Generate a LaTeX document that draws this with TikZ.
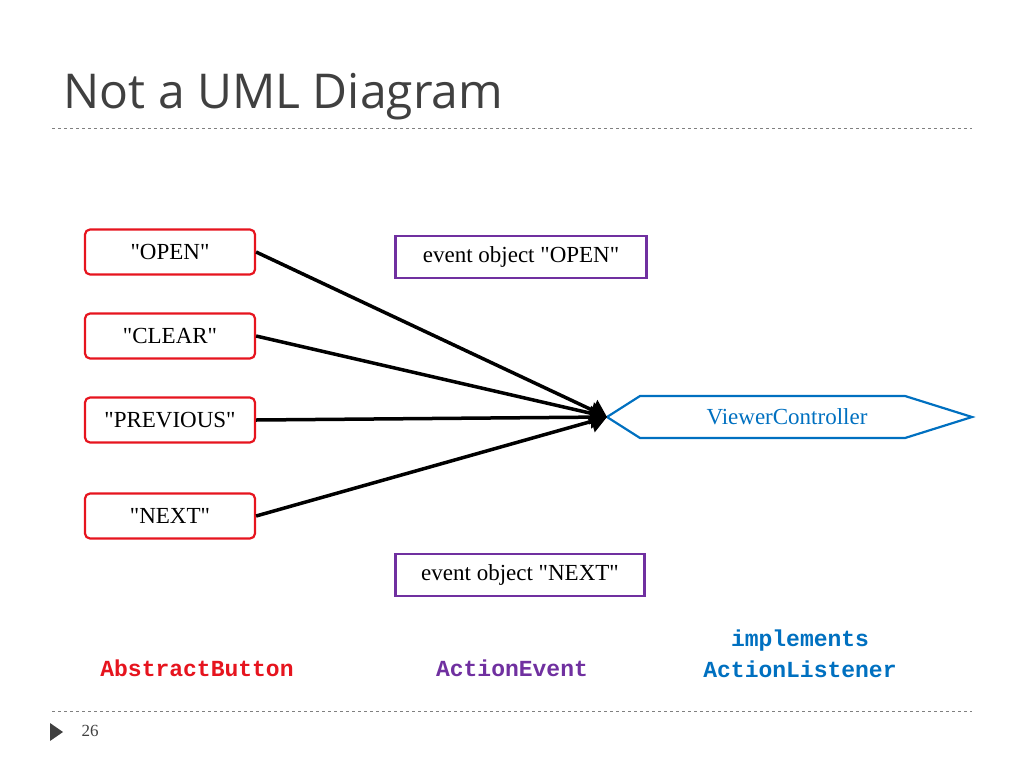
\documentclass[tikz,border=0pt]{standalone}
\usepackage{fontspec}
\setmainfont{Liberation Serif}[Ligatures=TeXOff]
\newfontfamily\titlefont{Open Sans}
\newfontfamily\codefont{Liberation Mono}
\usetikzlibrary{arrows.meta, positioning, shapes.geometric}
\definecolor{btnred}{RGB}{230,20,30}
\definecolor{evpurple}{RGB}{112,48,160}
\definecolor{lsblue}{RGB}{0,112,192}
\definecolor{titlegray}{RGB}{64,64,64}
\newcommand{\dq}{\symbol{34}}

\begin{document}
\begin{tikzpicture}[x=1pt, y=-1pt,
      button/.style={rectangle, rounded corners=5pt, draw=btnred, line width=2.2pt, minimum width=170pt, minimum height=45pt, font=\fontsize{23}{25}\selectfont},
      event/.style={rectangle, draw=evpurple, line width=2.2pt, minimum height=42pt, font=\fontsize{23}{25}\selectfont},
      code/.style={font=\codefont\bfseries\fontsize{23}{31}\selectfont, align=center},
      wire/.style={line width=3.5pt, -{Triangle[length=16pt, width=22pt]}}]
      \useasboundingbox (0,0) rectangle (1024,768);

      % Title
      \node[anchor=base west, text=titlegray, font=\titlefont\fontsize{48}{52}\selectfont] (title) at (60,108) {Not a UML Diagram};
      \draw[dashed, gray, line width=0.8pt] (52,128) -- (972,128);
      \draw[dashed, gray, line width=0.8pt] (52,711) -- (972,711);

      % Buttons
      \node[button] (open) at (170,252) {\dq OPEN\dq};
      \node[button] (clear) at (170,336) {\dq CLEAR\dq};
      \node[button] (previous) at (170,420) {\dq PREVIOUS\dq};
      \node[button] (next) at (170,516) {\dq NEXT\dq};

      % Events
      \node[event, minimum width=251pt] (evopen) at (521,257) {event object \dq OPEN\dq};
      \node[event, minimum width=249pt] (evnext) at (520,575) {event object \dq NEXT\dq};

      % Listener
      \draw[lsblue, line width=2.2pt] (607,417) -- (640,396) -- (905,396) -- (972,417) -- (905,438) -- (640,438) -- cycle;
      \node[text=lsblue, font=\fontsize{23}{25}\selectfont] (viewer) at (787,417) {ViewerController};
      \coordinate (tip) at (607,417);

      % Arrows
      \foreach \b in {open, clear, previous, next} {
        \draw[wire] (\b.east) -- (tip);
      }

      % Type labels
      \node[code, text=btnred] (abstract) at (197,668) {AbstractButton};
      \node[code, text=evpurple] (action) at (512,668) {ActionEvent};
      \node[code, text=lsblue] (listener) at (800,654) {implements\\ActionListener};

      % Footer
      \fill[titlegray] (50,723) -- (63,732) -- (50,741) -- cycle;
      \node[text=titlegray, font=\fontsize{17}{19}\selectfont] (page) at (90,731) {26};
    \end{tikzpicture}
\end{document}
